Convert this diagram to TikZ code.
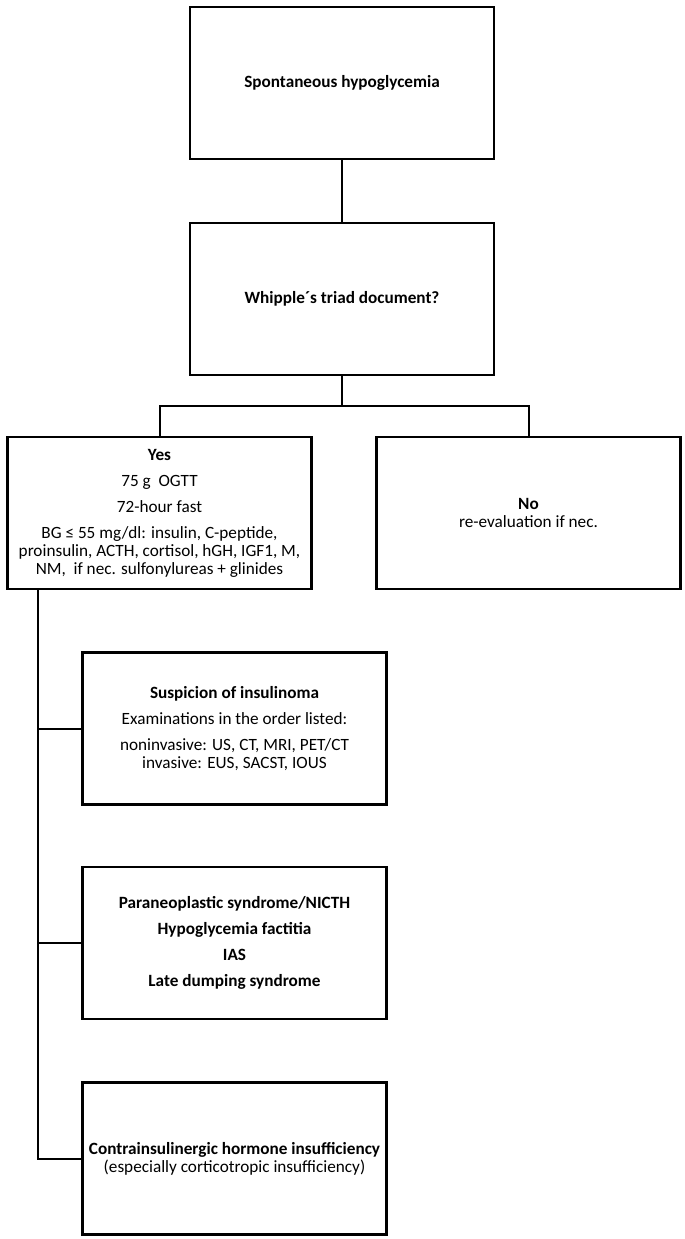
\documentclass[tikz,border=0pt]{standalone}
\usepackage{fontspec}
\setmainfont{Carlito}
\usetikzlibrary{positioning}
\tikzset{
  box/.style={draw, line width=2.2pt, minimum width=304pt, minimum height=152pt,
    inner sep=1pt, align=center, font=\fontsize{17.2}{17.8}\selectfont},
  link/.style={line width=2pt},
}
\newcommand{\pgap}{\\[8.3pt]}

\begin{document}
\begin{tikzpicture}[x=1pt,y=-1pt]
  \useasboundingbox (0,0) rectangle (685,1239);
  \node[box] (spont) at (342,83) {\textbf{Spontaneous hypoglycemia}};
  \node[box] (whipple) at (342,299) {\textbf{Whipple´s triad document?}};
  \node[box] (yes) at (159.5,513) {\textbf{Yes}\pgap 75 g\ \ OGTT\pgap 72-hour fast\pgap
    BG ≤ 55 mg/dl: insulin, C-peptide,\\ proinsulin, ACTH, cortisol, hGH, IGF1, M,\\
    NM,\ \ if nec. sulfonylureas + glinides};
  \node[box] (no) at (528.5,513) {\textbf{No}\\ re-evaluation if nec.};
  \node[box] (insul) at (234.5,728.5) {\textbf{Suspicion of insulinoma}\pgap
    Examinations in the order listed:\pgap noninvasive: US, CT, MRI, PET/CT\\
    invasive: EUS, SACST, IOUS};
  \node[box] (para) at (234.5,943) {\textbf{Paraneoplastic syndrome/NICTH}\pgap
    \textbf{Hypoglycemia factitia}\pgap \textbf{IAS}\pgap \textbf{Late dumping syndrome}};
  \node[box] (contra) at (234.5,1158.5) {\textbf{Contrainsulinergic hormone insufficiency}\\
    (especially corticotropic insufficiency)};
  % branch points
  \coordinate (fork) at (342,406);
  \coordinate (trunk) at (38,588);
  \draw[link] (spont) -- (whipple);
  \draw[link] (whipple) -- (fork);
  \draw[link] (yes) |- (fork) -| (no);
  \draw[link] (trunk) |- (contra);
  \draw[link] (trunk |- insul) -- (insul);
  \draw[link] (trunk |- para) -- (para);
\end{tikzpicture}
\end{document}
